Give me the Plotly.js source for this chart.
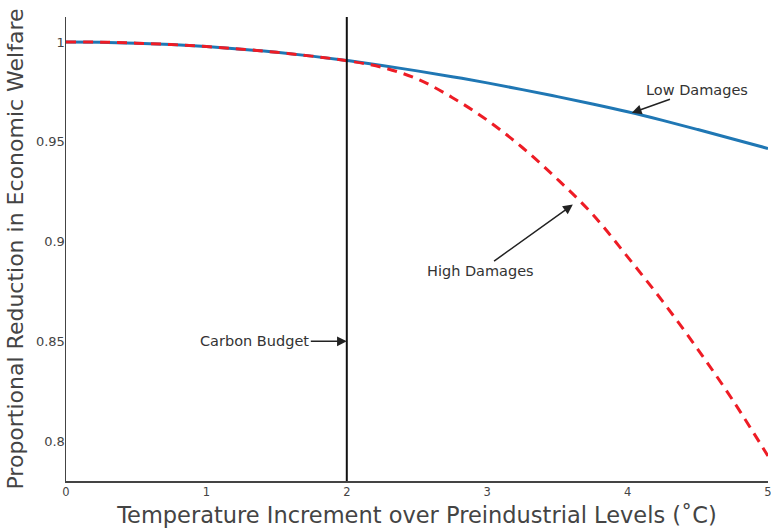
<!DOCTYPE html>
<html><head><meta charset="utf-8">
<script src="https://cdn.plot.ly/plotly-3.0.1.min.js"></script>
<style>html,body{margin:0;padding:0;background:#fff;}#chart{width:771px;height:531px;}</style>
</head><body><div id="chart"></div>
<script>
const temperature = [0,0.25,0.5,0.75,1,1.25,1.5,1.75,2,2.25,2.5,2.75,3,3.25,3.5,3.75,4,4.25,4.5,4.75,5];
const lowDamages  = [1,0.9999,0.9994,0.9987,0.9977,0.9964,0.9948,0.9929,0.9907,0.9882,0.9855,0.9826,0.9795,0.9761,0.9726,0.9689,0.9650,0.9607,0.9561,0.9514,0.9466];
const highDamages = [1,0.9999,0.9994,0.9987,0.9977,0.9964,0.9948,0.9929,0.9906,0.9873,0.9815,0.9722,0.9608,0.9471,0.9312,0.9137,0.8923,0.8700,0.8460,0.8204,0.7925];
const carbonBudget = 2;
const xTicks = [0,1,2,3,4,5];
const yTicks = [0.8,0.85,0.9,0.95,1];

const font = "DejaVu Sans, Verdana, sans-serif";
const data = [
  {x: temperature, y: lowDamages, mode: 'lines', line: {color: '#1f77b4', width: 3, shape: 'spline'}, name: 'Low Damages'},
  {x: temperature, y: highDamages, mode: 'lines', line: {color: '#ee1c25', width: 3, dash: '10px,7px', shape: 'spline'}, name: 'High Damages'}
];
const layout = {
  width: 771, height: 531,
  margin: {l: 66, r: 3, t: 17, b: 50},
  paper_bgcolor: '#fff', plot_bgcolor: '#fff',
  showlegend: false,
  font: {family: font, color: '#444', size: 11},
  xaxis: {range: [0,5], tickvals: xTicks, showgrid: false, zeroline: false, showline: true, linecolor: '#444', linewidth: 1.5, ticks: '',
          ticklabeloverflow: 'allow', tickfont: {size: 11.5, family: font, color: '#444'},
          title: {text: 'Temperature Increment over Preindustrial Levels (˚C)', font: {size: 22.5, family: font, color: '#444'}, standoff: 9}},
  yaxis: {range: [0.78, 1.0125], tickvals: yTicks, showgrid: false, zeroline: false, showline: true, linecolor: '#444', linewidth: 1.5, ticks: '',
          tickfont: {size: 13, family: font, color: '#444'}, ticklabelstandoff: -3,
          title: {text: 'Proportional Reduction in Economic Welfare', font: {size: 22, family: font, color: '#444'}, standoff: 6}},
  shapes: [{type: 'line', xref: 'x', yref: 'paper', x0: carbonBudget, x1: carbonBudget, y0: 0, y1: 1, line: {color: '#111', width: 2}}],
  annotations: [
    {x: carbonBudget, y: 0.85, xref: 'x', yref: 'y', text: 'Carbon Budget', showarrow: true, arrowhead: 2, arrowsize: 1.3, arrowwidth: 1.5, arrowcolor: '#222', ax: -92, ay: 0, font: {size: 14.5, family: font, color: '#333'}},
    {x: 4.03, y: 0.9645, xref: 'x', yref: 'y', text: 'Low Damages', showarrow: true, arrowhead: 2, arrowsize: 1.3, arrowwidth: 1.5, arrowcolor: '#222', ax: 65, ay: -23, font: {size: 14.5, family: font, color: '#333'}},
    {x: 3.61, y: 0.9185, xref: 'x', yref: 'y', text: 'High Damages', showarrow: true, arrowhead: 2, arrowsize: 1.3, arrowwidth: 1.5, arrowcolor: '#222', ax: -92, ay: 66, font: {size: 14.5, family: font, color: '#333'}}
  ]
};
Plotly.newPlot('chart', data, layout, {displayModeBar: false, staticPlot: true});
</script></body></html>
